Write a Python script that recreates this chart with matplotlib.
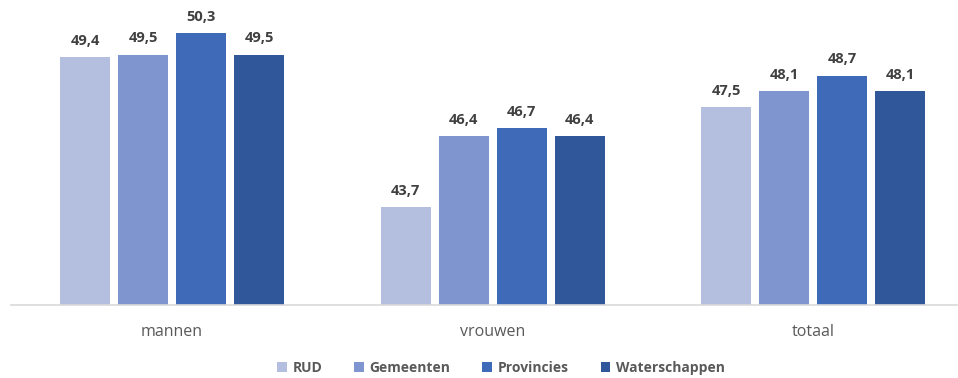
import numpy as np
import matplotlib.pyplot as plt

plt.rcParams['font.family'] = ['Open Sans', 'DejaVu Sans']

categories = ['mannen', 'vrouwen', 'totaal']
series = ['RUD', 'Gemeenten', 'Provincies', 'Waterschappen']
rud = [49.4, 43.7, 47.5]
gemeenten = [49.5, 46.4, 48.1]
provincies = [50.3, 46.7, 48.7]
waterschappen = [49.5, 46.4, 48.1]
colors = ['#B4BFE0', '#7F95CF', '#3E6AB8', '#30579A']

values = [rud, gemeenten, provincies, waterschappen]

W, H = 958, 378
fig = plt.figure(figsize=(W / 100, H / 100), dpi=100)
# axes box in pixels: left 11, right 957, bottom 305, top 19
ax = fig.add_axes([11 / W, (H - 305) / H, 946 / W, 286 / H])

x = np.arange(len(categories))
step = 58 / 320.5
width = 50 / 320.5
for i, (name, vals, c) in enumerate(zip(series, values, colors)):
    pos = x + (i - 1.5) * step
    bars = ax.bar(pos, vals, width, color=c, label=name)
    for b, v in zip(bars, vals):
        ax.text(b.get_x() + b.get_width() / 2, v + 0.35,
                f'{v:.1f}'.replace('.', ','), ha='center', va='bottom',
                fontsize=10.5, fontweight='bold', color='#404040')

ax.set_xlim(-161 / 320.5, 785 / 320.5)
ax.set_ylim(40, 50.85)
ax.set_xticks(x)
ax.set_xticklabels(categories, fontsize=11.5, color='#595959')
ax.tick_params(axis='x', length=0, pad=14)
ax.set_yticks([])
for s in ['top', 'right', 'left']:
    ax.spines[s].set_visible(False)
ax.spines['bottom'].set_color('#D9D9D9')
ax.spines['bottom'].set_linewidth(1.2)

leg = fig.legend(loc='center', bbox_to_anchor=(501 / W, (H - 368) / H), ncol=4,
                 frameon=False, handlelength=0.7, handleheight=0.7,
                 handletextpad=0.4, columnspacing=2.3,
                 prop={'size': 10, 'weight': 'bold'})
for t in leg.get_texts():
    t.set_color('#595959')

fig.savefig('out.png', dpi=100)
